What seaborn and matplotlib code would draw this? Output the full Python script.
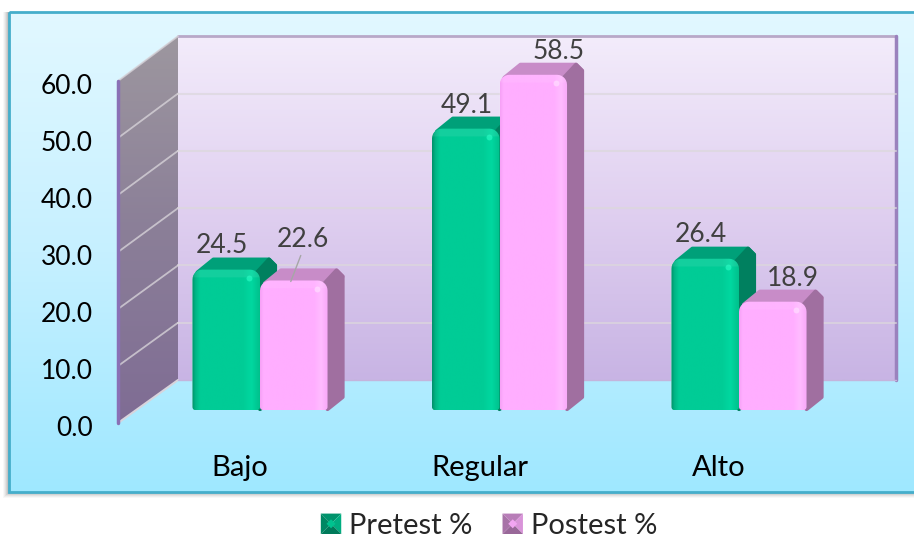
import matplotlib as mpl
import matplotlib.pyplot as plt
import numpy as np
import pandas as pd
import seaborn as sns
from matplotlib.colors import LinearSegmentedColormap, to_rgb
from matplotlib.legend_handler import HandlerBase
from matplotlib.patches import Patch, Polygon, Rectangle
from matplotlib.path import Path

mpl.use('Agg')

categories = ['Bajo', 'Regular', 'Alto']
pretest = [24.5, 49.1, 26.4]
postest = [22.6, 58.5, 18.9]
series_names = ['Pretest %', 'Postest %']
y_ticks = [0, 10, 20, 30, 40, 50, 60]

W, H = 914, 539
DEPTH_X, DEPTH_Y = 17, 12
GREEN = '#00cc96'
PINK = '#ffaeff'

sns.set_theme(style='white')
plt.rcParams['font.family'] = ['Lato', 'DejaVu Sans']

df = pd.DataFrame({'cat': categories, series_names[0]: pretest, series_names[1]: postest})
df = df.melt(id_vars='cat', var_name='serie', value_name='valor')

fig = plt.figure(figsize=(W / 100, H / 100), dpi=100, facecolor='white')


def axes_px(left, top, right, bottom, **kw):
    return fig.add_axes([left / W, 1 - bottom / H, (right - left) / W, (bottom - top) / H], **kw)


def gradient(ax_, colors, extent, clip=None, horizontal=False, zorder=1):
    cmap = LinearSegmentedColormap.from_list('g', colors)
    ramp = np.linspace(0, 1, 256)
    ramp = ramp[None, :] if horizontal else ramp[:, None]
    im = ax_.imshow(ramp, cmap=cmap, extent=extent, aspect='auto', origin='upper', zorder=zorder)
    if clip is not None:
        patch = Polygon(clip, closed=True, transform=ax_.transData, fc='none', ec='none')
        ax_.add_patch(patch)
        im.set_clip_path(patch)
    return im


def rounded(left, top, right, bottom, r_top=10, r_bot=3):
    """Outline of a bar front, in picture pixels."""
    t = np.linspace(0, np.pi / 2, 8)
    pts = []
    pts += list(zip(left + r_top - r_top * np.cos(t), top + r_top - r_top * np.sin(t)))
    pts += list(zip(right - r_top + r_top * np.sin(t), top + r_top - r_top * np.cos(t)))
    pts += list(zip(right - r_bot + r_bot * np.cos(t), bottom - r_bot + r_bot * np.sin(t)))
    pts += list(zip(left + r_bot - r_bot * np.sin(t), bottom - r_bot + r_bot * np.cos(t)))
    return np.array(pts)


# background layer in picture pixels
ax_bg = fig.add_axes([0, 0, 1, 1], zorder=0)
ax_bg.axis('off')
for i, alpha in zip(range(6, 0, -1), [0.04, 0.06, 0.08, 0.1, 0.12, 0.15]):
    ax_bg.add_patch(Rectangle((9 - i, 12), W, 480 + i, fc='#555555', ec='none', alpha=alpha, zorder=0))
gradient(ax_bg, ['#e2f8ff', '#c6f0ff', '#9fe8ff'], (9, W, 492, 12))
ax_bg.add_patch(Rectangle((9, 12), W, 480, fc='none', ec='#45aecb', lw=2, zorder=3))

# back wall and side wall
gradient(ax_bg, ['#f3ecfb', '#e0d0f0', '#c8b4e4'], (178, 896, 380, 36), zorder=2)
gradient(ax_bg, ['#9d979f', '#8b7f98', '#7f6c94'], (118, 178, 423, 36),
         clip=[(118, 81), (178, 36), (178, 380), (118, 423)], zorder=2)
ax_bg.plot([178, 896], [36, 36], color='#b8a8c8', lw=2, zorder=3)
ax_bg.plot([896, 896], [36, 380], color='#9a82bd', lw=2.5, zorder=3)
ax_bg.plot([118, 118], [81, 423], color='#8a70b5', lw=2.5, zorder=4)
ax_bg.plot([118, 178], [423, 380], color='#d8d4dc', lw=1.5, zorder=3)
ax_bg.plot([178, 896], [380, 380], color='#c4b4dc', lw=1, zorder=3)
for v in y_ticks[1:]:
    y_front = 423 - v * 5.7
    y_back = 380 - v * 5.73
    ax_bg.plot([118, 178], [y_front, y_back], color='#d6d2d8', lw=1.3, alpha=0.8, zorder=3)
    if v < 60:
        ax_bg.plot([178, 896], [y_back, y_back], color='#dcd8dc', lw=1.5, alpha=0.7, zorder=3)
ax_bg.set_xlim(0, W)
ax_bg.set_ylim(H, 0)

# tick labels live on the front edge of the chart box
ax_front = axes_px(118, 84, 895, 426, zorder=1, facecolor='none')
ax_front.set_ylim(0, 60)
ax_front.set_xlim((118 - 240) / 239.5, (895 - 240) / 239.5)
ax_front.set_yticks(y_ticks, ['{:.1f}'.format(v) for v in y_ticks])
ax_front.set_xticks(range(len(categories)), categories)
ax_front.tick_params(axis='both', length=0, labelcolor='black')
ax_front.tick_params(axis='y', pad=18, labelsize=19)
ax_front.tick_params(axis='x', pad=21, labelsize=21)
sns.despine(ax=ax_front, left=True, bottom=True)

# bars
ax = axes_px(118, 36, 895, 410, zorder=2, facecolor='none')
sns.barplot(data=df, x='cat', y='valor', hue='serie', palette=[GREEN, PINK], width=0.564, gap=0,
            saturation=1, ax=ax, legend=False, order=categories, hue_order=series_names)
ax.set_xlim((118 - 260) / 239.5, (895 - 260) / 239.5)
ax.set_ylim(0, 374 / 5.73)
ax.axis('off')

# bevels on top of the seaborn bars, read back from the bars themselves
ax_top = fig.add_axes([0, 0, 1, 1], zorder=3, facecolor='none')
ax_top.axis('off')
styles = [
    dict(side='#00805f', roof='#00a079',
         stops=[(0, '#008f6a'), (0.05, '#00b585'), (0.12, '#00cc96'), (0.75, '#00cc96'), (0.88, '#00d8a0'), (1, '#00c08c')],
         shine='#30ffc8'),
    dict(side='#a06fa0', roof='#c88cc8',
         stops=[(0, '#f5a0f5'), (0.05, '#ffaeff'), (0.8, '#ffaeff'), (0.9, '#ffbcff'), (1, '#f8a8f8')],
         shine='#ffe4ff'),
]
label_offsets = [[(-4, -27), (9, -44)], [(1, -26), (25, -26)], [(-4, -27), (20, -26)]]
label_color = '#404040'

for s, (container, style) in enumerate(zip(ax.containers, styles)):
    for c, bar in enumerate(container):
        x0, y0 = ax.transData.transform((bar.get_x(), 0))
        x1, y1 = ax.transData.transform((bar.get_x() + bar.get_width(), bar.get_height()))
        left, right, bottom, top = x0, x1, H - y0, H - y1

        outline = rounded(left, top, right, bottom)
        bar.set_clip_path(Path(np.vstack([outline, outline[:1]]), closed=True),
                          mpl.transforms.Affine2D().scale(1, -1).translate(0, H))

        roof = [(left + 5, top + 3), (left + DEPTH_X + 4, top - DEPTH_Y + 2), (right + DEPTH_X - 8, top - DEPTH_Y + 2),
                (right + DEPTH_X - 2, top - DEPTH_Y + 8), (right, top + 8)]
        side = [(right - 4, top + 4), (right + DEPTH_X - 8, top - DEPTH_Y + 2), (right + DEPTH_X - 2, top - DEPTH_Y + 8),
                (right + DEPTH_X - 2, bottom - DEPTH_Y - 1), (right, bottom - 1)]
        ax_top.add_patch(Polygon(roof, closed=True, fc=style['roof'], ec=style['roof'], lw=3, joinstyle='round',
                                 zorder=2 + s * 4))
        ax_top.add_patch(Polygon(side, closed=True, fc=style['side'], ec=style['side'], lw=3, joinstyle='round',
                                 zorder=2 + s * 4))

        gradient(ax_top, style['stops'], (left, right, bottom, top), clip=outline, horizontal=True, zorder=3 + s * 4)
        # lighter rounded band along the top of the front face
        band = outline[outline[:, 1] < top + 9]
        ax_top.add_patch(Polygon(band, closed=True, fc='white', ec='none', alpha=0.08, zorder=4 + s * 4))
        ax_top.scatter([right - 11], [top + 8], s=18, color=style['shine'], alpha=0.6, lw=0, zorder=5 + s * 4)

        dx, dy = label_offsets[c][s]
        ax_top.text((left + right) / 2 + dx, top + dy + 3, '{:.1f}'.format(bar.get_height()), ha='center', va='center',
                    fontsize=19, color=label_color, zorder=20)

# leader line for the one label that sits away from its bar
bajo_post = ax.containers[1][0]
bx0 = ax.transData.transform((bajo_post.get_x(), 0))[0]
bx1 = ax.transData.transform((bajo_post.get_x() + bajo_post.get_width(), 0))[0]
by = H - ax.transData.transform((0, bajo_post.get_height()))[1]
ax_top.plot([(bx0 + bx1) / 2 - 3, (bx0 + bx1) / 2 + 7], [by + 1, by - 25], color='#a6a6a6', lw=1, zorder=21)
ax_top.set_xlim(0, W)
ax_top.set_ylim(H, 0)


class PyramidHandler(HandlerBase):
    """Legend key with the bevelled look of the bars."""

    def create_artists(self, legend, orig_handle, xdescent, ydescent, width, height, fontsize, trans):
        base = np.array(to_rgb(orig_handle.get_facecolor()))
        x0, y0, x1, y1 = -xdescent, -ydescent, width - xdescent, height - ydescent
        cx, cy = (x0 + x1) / 2, (y0 + y1) / 2
        faces = [
            ([(x0, y1), (x1, y1), (cx, cy)], 0.72),
            ([(x1, y1), (x1, y0), (cx, cy)], 0.85),
            ([(x1, y0), (x0, y0), (cx, cy)], 0.60),
            ([(x0, y0), (x0, y1), (cx, cy)], 0.66),
        ]
        arts = [Polygon(pts, closed=True, fc=base * k, ec='none', transform=trans) for pts, k in faces]
        mx, my = (x1 - x0) * 0.22, (y1 - y0) * 0.22
        arts.append(Polygon([(cx - mx, cy), (cx, cy + my), (cx + mx, cy), (cx, cy - my)], closed=True,
                            fc=base * 0.95, ec='none', transform=trans))
        return arts


handles = [Patch(facecolor=GREEN, label=series_names[0]), Patch(facecolor=PINK, label=series_names[1])]
fig.legend(handles=handles, handler_map={Patch: PyramidHandler()}, ncol=2, frameon=False, fontsize=21,
           loc='center', bbox_to_anchor=(489 / W, 1 - 526 / H), handlelength=0.7, handleheight=0.7,
           handletextpad=0.27, columnspacing=1.03, borderpad=0, borderaxespad=0)

fig.savefig('out.png', dpi=100)
plt.close()
